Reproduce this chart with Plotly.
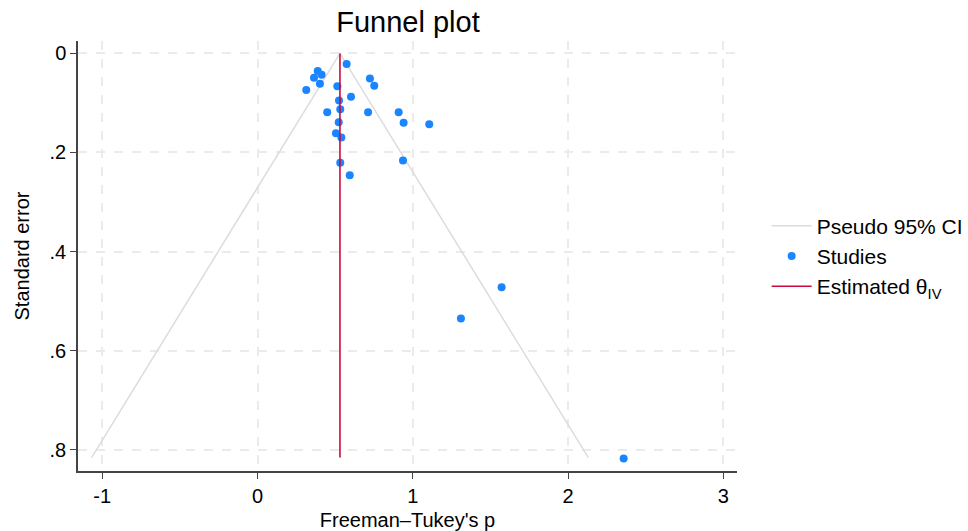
import plotly.graph_objects as go

# Study estimates (Freeman–Tukey transformed) and standard errors
effect = [0.574, 0.388, 0.413, 0.364, 0.402, 0.314, 0.514, 0.724, 0.752, 0.602,
          0.525, 0.449, 0.533, 0.712, 0.909, 0.523, 0.941, 1.106, 0.505, 0.540,
          0.533, 0.937, 0.594, 1.572, 1.310, 2.358]
se = [0.0216, 0.0358, 0.0432, 0.0493, 0.0614, 0.0741, 0.0661, 0.0505, 0.0655, 0.0877,
      0.0949, 0.119, 0.113, 0.119, 0.119, 0.139, 0.140, 0.143, 0.161, 0.170,
      0.221, 0.216, 0.246, 0.472, 0.535, 0.818]

theta = 0.531
se_max = 0.816
z = 1.96

x_ticks = [-1, 0, 1, 2, 3]
x_tick_labels = ["-1", "0", "1", "2", "3"]
y_ticks = [0, 0.2, 0.4, 0.6, 0.8]
y_tick_labels = ["0", ".2", ".4", ".6", ".8"]

ci_x = [theta - z * se_max, theta, theta + z * se_max]
ci_y = [se_max, 0, se_max]

fig = go.Figure()
fig.add_trace(go.Scatter(x=ci_x, y=ci_y, mode="lines", name="Pseudo 95% CI",
                         line=dict(color="#dcdcdc", width=1.5)))
fig.add_trace(go.Scatter(x=effect, y=se, mode="markers", name="Studies",
                         marker=dict(color="#1a85ff", size=8)))
fig.add_trace(go.Scatter(x=[theta, theta], y=[0, se_max], mode="lines",
                         name="Estimated θ<sub>IV</sub>",
                         line=dict(color="#cc0a3c", width=1.6)))

font_family = "Liberation Sans, Arial, sans-serif"
fig.update_layout(
    width=968, height=531,
    margin=dict(l=78, r=231, t=41, b=60, autoexpand=False),
    paper_bgcolor="white", plot_bgcolor="white",
    font=dict(family=font_family, size=20, color="#000"),
    title=dict(text="Funnel plot", x=0.4215, xanchor="center", y=0.958, yanchor="middle",
               font=dict(size=29, family=font_family, color="#000")),
    legend=dict(x=1.045, xanchor="left", y=0.5, yanchor="middle",
                font=dict(size=21, family=font_family), tracegroupgap=0,
                itemwidth=40, bgcolor="rgba(0,0,0,0)"),
    showlegend=True,
)
fig.update_xaxes(range=[-1.156, 3.088], tickvals=x_ticks, ticktext=x_tick_labels,
                 showline=True, linecolor="#444", linewidth=1.5, ticks="outside",
                 ticklen=6, tickcolor="#444", showgrid=True, gridcolor="#ebebeb",
                 griddash="dash", gridwidth=1.5, zeroline=False, automargin=False,
                 title=dict(text="Freeman–Tukey's p", font=dict(size=20)),
                 tickfont=dict(size=20))
fig.update_yaxes(range=[0.843, -0.025], tickvals=y_ticks, ticktext=y_tick_labels,
                 showline=True, linecolor="#444", linewidth=1.5, ticks="outside",
                 ticklen=6, tickcolor="#444", showgrid=True, gridcolor="#ebebeb",
                 griddash="dash", gridwidth=1.5, zeroline=False, automargin=False,
                 title=dict(text="Standard error", font=dict(size=20)),
                 tickfont=dict(size=20))

fig.write_html("out.html")
